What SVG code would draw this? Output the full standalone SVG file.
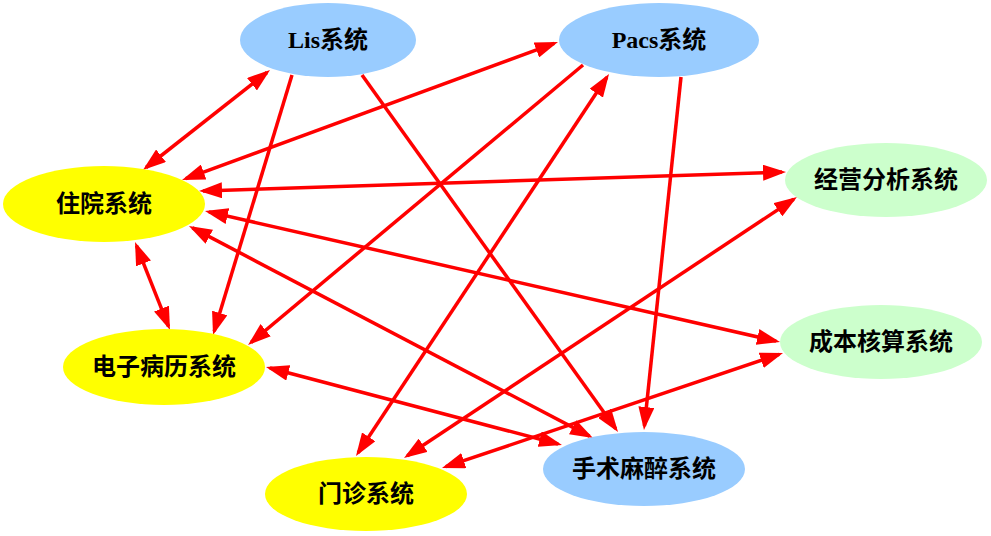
<svg xmlns="http://www.w3.org/2000/svg" width="991" height="536" viewBox="0 0 991 536">
<style>
.blue{fill:#99ccff}
.yellow{fill:#ffff00}
.green{fill:#ccffcc}
.lbl{font-family:"Liberation Serif","Noto Sans CJK SC",serif;font-size:24px;font-weight:bold;fill:#000;text-anchor:middle}
.e{stroke:#ff0000;stroke-width:3.5;fill:none}
.one{marker-end:url(#ah)}
.two{marker-start:url(#ah);marker-end:url(#ah)}
</style>
<defs>
<marker id="ah" markerUnits="userSpaceOnUse" markerWidth="23" markerHeight="16" refX="19" refY="8" orient="auto-start-reverse">
<path d="M0,0 L23,8 L0,16 z" fill="#ff0000"/>
</marker>
</defs>
<rect width="991" height="536" fill="#ffffff"/>
<g id="connectors">
<line class="e two" x1="266.9" y1="72.5" x2="146.1" y2="167.5"/>
<line class="e one" x1="292" y1="75" x2="214.2" y2="331.2"/>
<line class="e one" x1="362" y1="75" x2="615.7" y2="428.7"/>
<line class="e two" x1="554.2" y1="43.4" x2="185.8" y2="178.6"/>
<line class="e one" x1="583" y1="65" x2="251.1" y2="342.4"/>
<line class="e two" x1="606.8" y1="77.3" x2="358.2" y2="452.7"/>
<line class="e one" x1="681" y1="77" x2="644.4" y2="426"/>
<line class="e two" x1="203" y1="190.9" x2="782" y2="172.1"/>
<line class="e two" x1="208.9" y1="211.9" x2="776.1" y2="341.1"/>
<line class="e two" x1="192.5" y1="227.9" x2="589.5" y2="436.1"/>
<line class="e two" x1="136.5" y1="245.7" x2="168.5" y2="326.3"/>
<line class="e two" x1="269.9" y1="368" x2="558.1" y2="444"/>
<line class="e two" x1="793.7" y1="199.2" x2="407.3" y2="455.8"/>
<line class="e two" x1="779.2" y1="354.3" x2="445.8" y2="466.7"/>
</g>
<g id="lis"><ellipse class="blue" cx="328" cy="40" rx="88" ry="37"/><text class="lbl" x="328" y="48">Lis系统</text></g>
<g id="pacs"><ellipse class="blue" cx="659" cy="40" rx="100" ry="37"/><text class="lbl" x="659" y="48">Pacs系统</text></g>
<g id="zhuyuan"><ellipse class="yellow" cx="104" cy="204" rx="101" ry="38"/><text class="lbl" x="104" y="212">住院系统</text></g>
<g id="jingying"><ellipse class="green" cx="886" cy="180" rx="101" ry="37"/><text class="lbl" x="886" y="188">经营分析系统</text></g>
<g id="chengben"><ellipse class="green" cx="881" cy="342" rx="101" ry="37"/><text class="lbl" x="881" y="350">成本核算系统</text></g>
<g id="dianzi"><ellipse class="yellow" cx="164" cy="367" rx="101" ry="38"/><text class="lbl" x="164" y="375">电子病历系统</text></g>
<g id="menzhen"><ellipse class="yellow" cx="366" cy="494" rx="101" ry="37"/><text class="lbl" x="366" y="502">门诊系统</text></g>
<g id="shoushu"><ellipse class="blue" cx="644" cy="469" rx="101" ry="37"/><text class="lbl" x="644" y="477">手术麻醉系统</text></g>
</svg>
